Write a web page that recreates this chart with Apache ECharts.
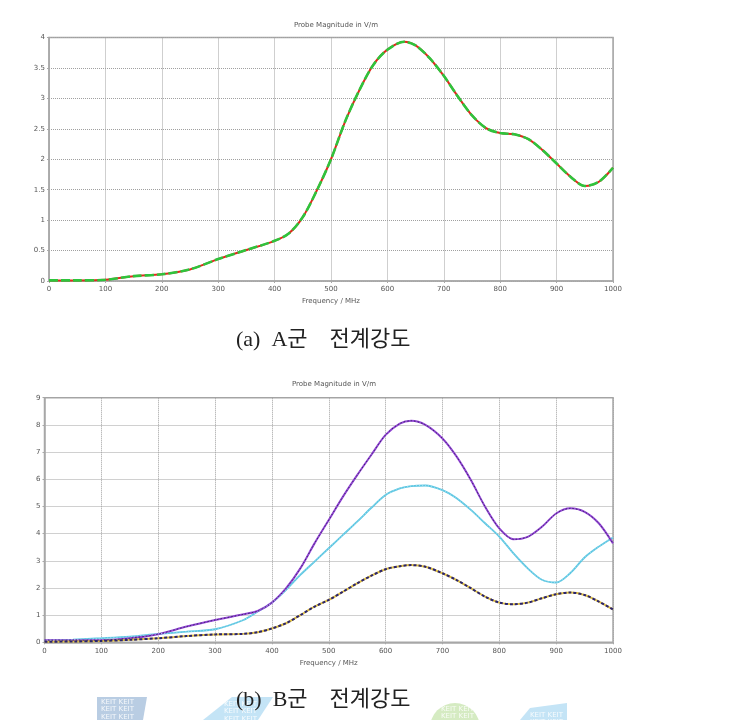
<!DOCTYPE html>
<html><head><meta charset="utf-8">
<script src="https://cdn.jsdelivr.net/npm/echarts@6/dist/echarts.min.js"></script>
<style>html,body{margin:0;padding:0;background:#fff}#c{width:737px;height:720px}</style>
</head><body><div id="c"></div><script>
// ---- Chart (a): A군 ----
const aFreq = [0,50,100,150,200,250,300,350,400,425,450,475,500,525,550,575,600,630,650,675,700,725,750,775,800,825,850,875,900,925,950,975,1000];
const aField = [0.01,0.01,0.02,0.08,0.11,0.19,0.36,0.51,0.66,0.78,1.05,1.49,2.0,2.62,3.13,3.55,3.80,3.93,3.87,3.66,3.37,3.03,2.72,2.51,2.43,2.41,2.33,2.15,1.93,1.71,1.56,1.63,1.86];
// ---- Chart (b): B군 ----
const bFreq = [0,50,100,150,200,250,300,350,375,400,425,450,475,500,525,550,575,600,625,645,670,700,725,750,775,800,825,850,875,900,925,950,975,1000];
const bPurple = [0.08,0.08,0.08,0.15,0.3,0.58,0.82,1.03,1.15,1.46,1.99,2.72,3.64,4.5,5.36,6.15,6.9,7.63,8.05,8.15,8.0,7.5,6.83,5.97,4.99,4.19,3.79,3.88,4.25,4.74,4.93,4.8,4.38,3.64];
const bCyan = [0.06,0.1,0.15,0.21,0.31,0.39,0.48,0.82,1.13,1.46,1.93,2.48,2.97,3.46,3.95,4.44,4.95,5.42,5.66,5.75,5.77,5.6,5.3,4.87,4.38,3.89,3.27,2.72,2.3,2.2,2.55,3.12,3.52,3.86];
const bDark = [0.02,0.03,0.05,0.09,0.15,0.23,0.29,0.31,0.37,0.51,0.7,1.0,1.31,1.56,1.86,2.17,2.45,2.69,2.8,2.84,2.78,2.54,2.29,1.99,1.68,1.46,1.4,1.46,1.62,1.77,1.83,1.74,1.5,1.21];
const titleText = 'Probe Magnitude in V/m';
const xName = 'Frequency / MHz';
const captionA = '(a)  A군    전계강도';
const captionB = '(b)  B군    전계강도';

const pair = (xs, ys) => xs.map((x, i) => [x, ys[i]]);
const lab = {color:'#555', fontSize:7, fontFamily:'DejaVu Sans'};
function xAx(gi){
  return {type:'value', gridIndex:gi, min:0, max:1000, interval:100,
    name:xName, nameLocation:'middle', nameGap:17, nameTextStyle:lab,
    axisLine:{show:true, lineStyle:{color:'#a8a8a8', width:1.5}},
    axisTick:{show:true, length:2, lineStyle:{color:'#a8a8a8'}},
    axisLabel:Object.assign({margin:5, showMaxLabel:true, showMinLabel:true, formatter:v=>String(v)}, lab),
    splitLine:{show:true, lineStyle:{color:'#a0a0a0', type:[1,1], width:1}}};
}
function yAx(gi, max, iv){
  return {type:'value', gridIndex:gi, min:0, max:max, interval:iv,
    axisLine:{show:true, lineStyle:{color:'#a8a8a8', width:1.5}},
    axisTick:{show:true, length:2, lineStyle:{color:'#a8a8a8'}},
    axisLabel:Object.assign({margin:4, formatter:v=>String(v)}, lab),
    splitLine:{show:true, lineStyle:{color:'#a0a0a0', type:[1,1], width:1}}};
}
function line(gi, data, color, width, type, z){
  return {type:'line', xAxisIndex:gi, yAxisIndex:gi, data:data, smooth:0.3, showSymbol:false,
    lineStyle:{color:color, width:width, type:type}, z:z, silent:true, animation:false};
}
function wmText(x, y){
  return {type:'text', left:x, top:y, silent:true, style:{text:'KEIT KEIT\nKEIT KEIT\nKEIT KEIT', fill:'rgba(255,255,255,0.85)', font:'7px DejaVu Sans', lineHeight:7.5}};
}
const capFont = '22px "Liberation Serif", "Noto Sans CJK KR"';
const chart = echarts.init(document.getElementById('c'), null, {renderer:'canvas'});
chart.setOption({
  backgroundColor:'#fff', animation:false,
  title:[
    {text:titleText, left:331, top:17, textAlign:'center', textStyle:{color:'#555', fontSize:7, fontWeight:'normal', fontFamily:'DejaVu Sans'}},
    {text:titleText, left:329, top:376, textAlign:'center', textStyle:{color:'#555', fontSize:7, fontWeight:'normal', fontFamily:'DejaVu Sans'}}
  ],
  grid:[
    {left:49, top:37.5, width:564, height:243.5, show:true, borderColor:'#a8a8a8', borderWidth:1.5, backgroundColor:'#fff'},
    {left:44.5, top:397.7, width:568.5, height:244.6, show:true, borderColor:'#a8a8a8', borderWidth:1.5, backgroundColor:'#fff'}
  ],
  xAxis:[xAx(0), xAx(1)],
  yAxis:[yAx(0,4,0.5), yAx(1,9,1)],
  series:[
    line(0, pair(aFreq,aField), '#e02a1e', 2, 'solid', 3),
    line(0, pair(aFreq,aField), '#2ec43c', 2.6, [9,3], 4),
    line(1, pair(bFreq,bCyan), '#5cc6e2', 1.8, 'solid', 3),
    line(1, pair(bFreq,bCyan), '#b8e8f4', 0.8, [1,2], 4),
    line(1, pair(bFreq,bPurple), '#9446d6', 2, 'solid', 3),
    line(1, pair(bFreq,bPurple), '#3a2a6a', 1, [1.5,2], 4),
    line(1, pair(bFreq,bDark), '#e0c040', 2, 'solid', 3),
    line(1, pair(bFreq,bDark), '#2a2470', 2, [3,2], 4)
  ],
  graphic:[
    {type:'polygon', silent:true, shape:{points:[[97,697],[147,697],[143,720],[97,720]]}, style:{fill:'#b9cde3'}},
    wmText(101,698),
    {type:'polygon', silent:true, shape:{points:[[232,697],[273,697],[258,720],[203,720]]}, style:{fill:'#c4e4f6'}},
    wmText(224,700),
    {type:'circle', silent:true, shape:{cx:455, cy:728, r:25}, style:{fill:'#d5ebc2'}},
    wmText(441,705),
    {type:'polygon', silent:true, shape:{points:[[530,708],[567,703],[567,720],[520,720]]}, style:{fill:'#c4e4f6'}},
    wmText(530,711),
    {type:'text', silent:true, style:{text:captionA, fill:'#222', font:capFont}, left:236, top:329, z:10},
    {type:'text', silent:true, style:{text:captionB, fill:'#222', font:capFont}, left:236, top:689, z:10}
  ]
});
</script></body></html>
